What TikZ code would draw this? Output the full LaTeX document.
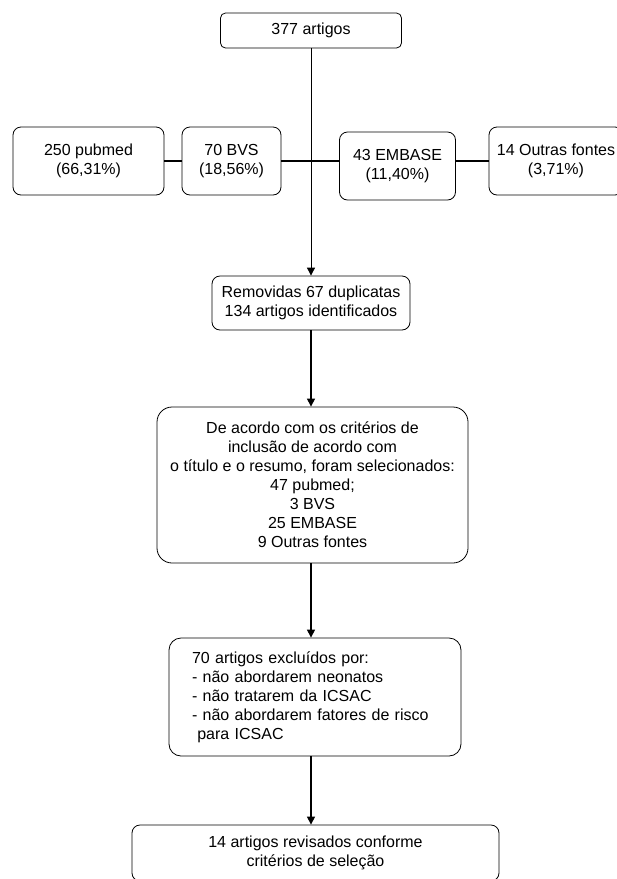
\documentclass[tikz,border=0pt]{standalone}
\usepackage{fontspec}
\setmainfont{Liberation Sans}
\usetikzlibrary{arrows.meta,calc}
\begin{document}
\begin{tikzpicture}[x=1pt,y=-1pt,
  box/.style={draw=black,line width=0.8pt,rounded corners=#1,inner sep=0pt,align=center,
    font=\fontsize{16}{19}\selectfont},
  box/.default=8pt,
  arr/.style={line width=1.1pt,-{Triangle[length=8pt,width=8pt]}},
  link/.style={line width=1.6pt}]
\clip (0,0) rectangle (617,879);
\fill[white] (0,0) rectangle (617,879);
\node[box=5pt,minimum width=181pt,minimum height=35pt] (top) at (311,30.5) {377 artigos};
\node[box,minimum width=151pt,minimum height=68pt] (pub) at (88.5,161) {250 pubmed\\(66,31\%)};
\node[box,minimum width=99pt,minimum height=68pt] (bvs) at (231.5,161) {70 BVS\\(18,56\%)};
\node[box,minimum width=116pt,minimum height=68pt] (emb) at (397.5,166) {43 EMBASE\\(11,40\%)};
\node[box,minimum width=134pt,minimum height=68pt] (out) at (556,161) {14 Outras fontes\\(3,71\%)};
\node[box,minimum width=198pt,minimum height=54pt] (rem) at (311,303) {Removidas 67 duplicatas\\134 artigos identificados};
\node[box=15pt,minimum width=311pt,minimum height=156pt] (big) at (312.5,485)
  {De acordo com os critérios de\\inclusão de acordo com\\o título e o resumo, foram selecionados:\\47 pubmed;\\3 BVS\\25 EMBASE\\9 Outras fontes};
\node[box=12pt,minimum width=292pt,minimum height=118pt,text width=246pt,align=left] (exc) at (315,697)
  {70 artigos excluídos por:\\- não abordarem neonatos\\- não tratarem da ICSAC\\- não abordarem fatores de risco\\\ para ICSAC};
\node[box,minimum width=367pt,minimum height=56pt] (fin) at (315.5,853)
  {14 artigos revisados conforme\\critérios de seleção};
% connectors
\draw[link] (pub.east) -- (bvs.west);
\draw[link] (bvs.east) -- (bvs.east -| emb.west);
\draw[link] (out.west -| emb.east) -- (out.west);
\draw[arr,line width=0.9pt] (top.south) -- (rem.north);
\draw[arr] (rem.south) -- (rem.south |- big.north);
\draw[arr] (big.south -| rem.south) -- (exc.north -| rem.south);
\draw[arr] (exc.south -| rem.south) -- (fin.north -| rem.south);
\end{tikzpicture}
\end{document}
